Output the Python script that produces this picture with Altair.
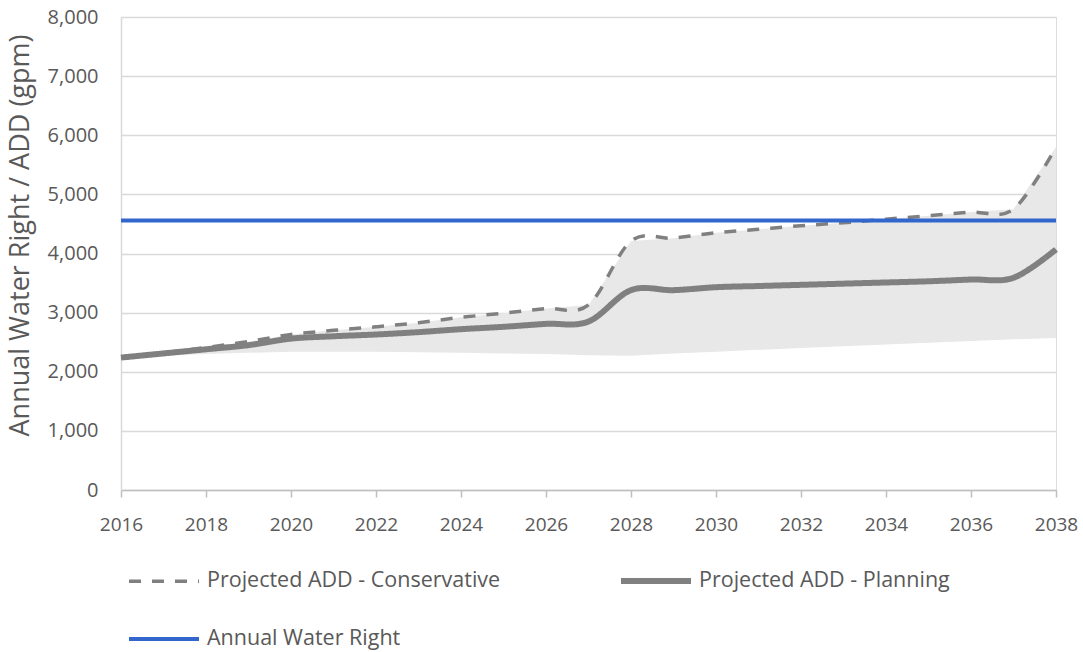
import altair as alt
import pandas as pd

years = list(range(2016, 2039))
conservative = [2240, 2320, 2410, 2510, 2630, 2700, 2760, 2830, 2920, 2990, 3070, 3130,
                4210, 4260, 4350, 4410, 4470, 4520, 4580, 4640, 4700, 4750, 5800]
planning = [2240, 2310, 2380, 2450, 2560, 2600, 2630, 2670, 2720, 2760, 2810, 2850,
            3380, 3380, 3430, 3450, 3470, 3490, 3510, 3530, 3560, 3590, 4070]
lower_bound = [2240, 2270, 2300, 2320, 2340, 2340, 2340, 2330, 2320, 2310, 2300, 2280,
               2270, 2310, 2340, 2370, 2400, 2430, 2460, 2490, 2520, 2550, 2570]
water_right_years = [2016, 2038]
water_right = [4560, 4560]

series_names = ["Projected ADD - Conservative", "Projected ADD - Planning", "Annual Water Right"]
series_colors = ["#808080", "#808080", "#3366CC"]
series_dash = [[12, 11], [1, 0], [1, 0]]
series_width = [3.5, 6, 4]

FONT = "Open Sans"
TXT = "#595959"

band_df = pd.DataFrame({"year": years, "low": lower_bound, "high": conservative})

rows = []
for y, v in zip(years, conservative):
    rows.append({"year": y, "value": v, "series": series_names[0]})
for y, v in zip(years, planning):
    rows.append({"year": y, "value": v, "series": series_names[1]})
for y, v in zip(water_right_years, water_right):
    rows.append({"year": y, "value": v, "series": series_names[2]})
line_df = pd.DataFrame(rows)

x_scale = alt.Scale(domain=[2016, 2038], nice=False, zero=False)
y_scale = alt.Scale(domain=[0, 8000], nice=False)

band = alt.Chart(band_df).mark_area(color="#E8E8E8", opacity=1, interpolate="linear").encode(
    x=alt.X("year:Q", scale=x_scale,
            axis=alt.Axis(title=None, values=list(range(2016, 2039, 2)), format="d",
                          grid=False, ticks=True, tickSize=7, tickColor="#BFBFBF", tickWidth=1.5,
                          domain=True, domainColor="#BFBFBF", domainWidth=1.5,
                          labelFlush=False, labelBound=False, labelOverlap=False,
                          labelFont=FONT, labelFontSize=19, labelColor=TXT, labelPadding=18)),
    y=alt.Y("low:Q", scale=y_scale,
            axis=alt.Axis(title="Annual Water Right / ADD (gpm)", format=",.0f",
                          values=list(range(0, 8001, 1000)),
                          grid=True, gridColor="#D9D9D9", gridWidth=1.5,
                          ticks=False, domain=True, domainColor="#D9D9D9", domainWidth=1.5,
                          labelFlush=False, labelBound=False, labelOverlap=False,
                          labelFont=FONT, labelFontSize=20, labelColor=TXT, labelPadding=23,
                          titleFont=FONT, titleFontSize=27, titleColor=TXT, titleFontWeight="normal",
                          titleX=-101, titleY=218, titleAngle=270, titleBaseline="middle",
                          titleAlign="center")),
    y2="high:Q",
)

lines = alt.Chart(line_df).mark_line(interpolate="cardinal").encode(
    x=alt.X("year:Q", scale=x_scale),
    y=alt.Y("value:Q", scale=y_scale),
    color=alt.Color("series:N", scale=alt.Scale(domain=series_names, range=series_colors),
                    legend=alt.Legend(title=None, orient="none", legendX=5, legendY=526,
                                      direction="horizontal",
                                      columns=2, columnPadding=108, rowPadding=9,
                                      symbolType="stroke", symbolSize=4900,
                                      labelFont=FONT, labelFontSize=21.5, labelColor=TXT,
                                      labelLimit=500, labelOffset=5, gridAlign="all")),
    strokeDash=alt.StrokeDash("series:N", scale=alt.Scale(domain=series_names, range=series_dash)),
    strokeWidth=alt.StrokeWidth("series:N", scale=alt.Scale(type="ordinal", domain=series_names,
                                                            range=series_width)),
)

chart = alt.layer(band, lines).properties(
    width=935, height=473,
    autosize=alt.AutoSizeParams(type="none"),
    padding={"left": 121, "top": 17, "right": 27, "bottom": 162},
).configure_view(stroke=None).configure(background="white")

chart.save("out.html", embed_options={"renderer": "svg", "actions": False})
